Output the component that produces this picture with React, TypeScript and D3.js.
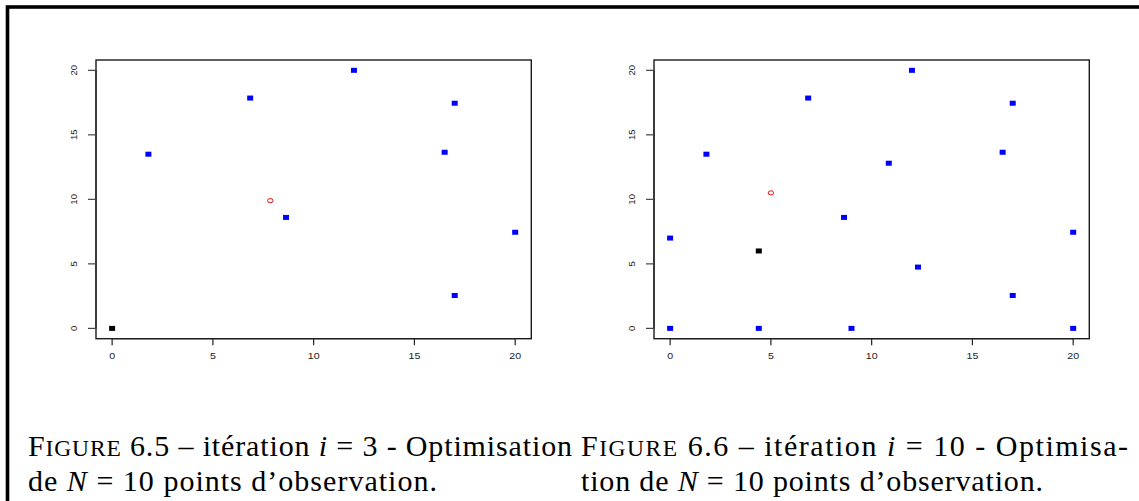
import React from "react";
import * as d3 from "d3";

// ---- data ----
const axisTicks = [0, 5, 10, 15, 20];

// Figure 6.5 (iteration i = 3)
const fig5BlueX = [1.8, 6.85, 12, 8.63, 17, 16.5, 20, 17];
const fig5BlueY = [13.5, 17.85, 20, 8.6, 17.45, 13.65, 7.45, 2.55];
const fig5BlackX = [0];
const fig5BlackY = [0];
const fig5RedX = [7.85];
const fig5RedY = [9.9];

// Figure 6.6 (iteration i = 10)
const fig6BlueX = [0, 0, 1.8, 6.85, 4.4, 8.63, 9, 12, 17, 16.5, 10.85, 20, 12.3, 17, 20];
const fig6BlueY = [7, 0, 13.5, 17.85, 0, 8.6, 0, 20, 17.45, 13.65, 12.8, 7.45, 4.75, 2.55, 0];
const fig6BlackX = [4.4];
const fig6BlackY = [6];
const fig6RedX = [5.0];
const fig6RedY = [10.5];

const domain: [number, number] = [-0.8, 20.8];

type PanelProps = {
  left: number;
  right: number;
  top: number;
  bottom: number;
  blueX: number[];
  blueY: number[];
  blackX: number[];
  blackY: number[];
  redX: number[];
  redY: number[];
};

function Panel(p: PanelProps) {
  const x = d3.scaleLinear().domain(domain).range([p.left, p.right]);
  const y = d3.scaleLinear().domain(domain).range([p.bottom, p.top]);
  const sqW = 6;
  const sqH = 5;
  return (
    <g>
      <rect
        x={p.left}
        y={p.top}
        width={p.right - p.left}
        height={p.bottom - p.top}
        fill="none"
        stroke="#1a1a1a"
        strokeWidth={1.4}
      />
      <line x1={p.left} x2={p.left} y1={y(0)} y2={y(20)} stroke="#222" strokeWidth={1.2} />
      {axisTicks.map((t) => (
        <g key={"y" + t}>
          <line x1={p.left - 8} x2={p.left} y1={y(t)} y2={y(t)} stroke="#444" strokeWidth={1.2} />
          <text
            transform={`translate(${p.left - 22.5},${y(t)}) rotate(-90)`}
            textAnchor="middle"
            dominantBaseline="central"
            fontFamily="Liberation Sans, Arial, sans-serif"
            fontSize={9.5}
            fill="#222"
          >
            {t}
          </text>
        </g>
      ))}
      <line x1={x(0)} x2={x(20)} y1={p.bottom} y2={p.bottom} stroke="#222" strokeWidth={1.2} />
      {axisTicks.map((t) => (
        <g key={"x" + t}>
          <line x1={x(t)} x2={x(t)} y1={p.bottom} y2={p.bottom + 6.5} stroke="#222" strokeWidth={1.2} />
          <text
            transform={`translate(${x(t)},${p.bottom + 17}) scale(1.25,1)`}
            textAnchor="middle"
            dominantBaseline="central"
            fontFamily="Liberation Sans, Arial, sans-serif"
            fontSize={8.5}
            fill="#222"
          >
            {t}
          </text>
        </g>
      ))}
      {p.blueX.map((v, i) => (
        <rect
          key={"b" + i}
          x={x(v) - sqW / 2}
          y={y(p.blueY[i]) - sqH / 2}
          width={sqW}
          height={sqH}
          fill="#0000ff"
        />
      ))}
      {p.blackX.map((v, i) => (
        <rect
          key={"k" + i}
          x={x(v) - sqW / 2}
          y={y(p.blackY[i]) - sqH / 2}
          width={sqW}
          height={sqH}
          fill="#000"
        />
      ))}
      {p.redX.map((v, i) => (
        <ellipse
          key={"r" + i}
          cx={x(v)}
          cy={y(p.redY[i])}
          rx={2.7}
          ry={2.1}
          fill="none"
          stroke="#ff0000"
          strokeWidth={1}
        />
      ))}
    </g>
  );
}

const capFont = "'Liberation Serif', 'Times New Roman', serif";

function Caption(props: {
  x: number;
  y: number;
  w1: number;
  w2: number;
  num: string;
  iter: string;
  tail1: string;
  line2pre: string;
}) {
  return (
    <g fontFamily={capFont} fontSize={30} fill="#000">
      <text x={props.x} y={props.y} textLength={props.w1} lengthAdjust="spacing">
        <tspan>F</tspan>
        <tspan fontSize={23.5}>IGURE</tspan>
        <tspan>{` ${props.num} – itération `}</tspan>
        <tspan fontStyle="italic">i</tspan>
        <tspan>{` = ${props.iter} - ${props.tail1}`}</tspan>
      </text>
      <text x={props.x} y={props.y + 35} textLength={props.w2} lengthAdjust="spacing">
        <tspan>{props.line2pre}</tspan>
        <tspan fontStyle="italic">N</tspan>
        <tspan>{" = 10 points d’observation."}</tspan>
      </text>
    </g>
  );
}

export default function App() {
  return (
    <svg
      width={1139}
      height={501}
      style={{ position: "absolute", left: 0, top: 0, display: "block", background: "#fff" }}
    >
      <rect x={0} y={0} width={1139} height={501} fill="#fff" />
      <rect x={7.5} y={7} width={1300} height={700} fill="none" stroke="#000" strokeWidth={3.6} />
      <Panel
        left={96}
        right={531.3}
        top={60}
        bottom={338.7}
        blueX={fig5BlueX}
        blueY={fig5BlueY}
        blackX={fig5BlackX}
        blackY={fig5BlackY}
        redX={fig5RedX}
        redY={fig5RedY}
      />
      <Panel
        left={654}
        right={1089.3}
        top={60}
        bottom={338.7}
        blueX={fig6BlueX}
        blueY={fig6BlueY}
        blackX={fig6BlackX}
        blackY={fig6BlackY}
        redX={fig6RedX}
        redY={fig6RedY}
      />
      <Caption x={28} y={456} w1={544} w2={409} num="6.5" iter="3" tail1="Optimisation" line2pre="de " />
      <Caption x={581} y={456} w1={547} w2={462} num="6.6" iter="10" tail1="Optimisa-" line2pre="tion de " />
    </svg>
  );
}
